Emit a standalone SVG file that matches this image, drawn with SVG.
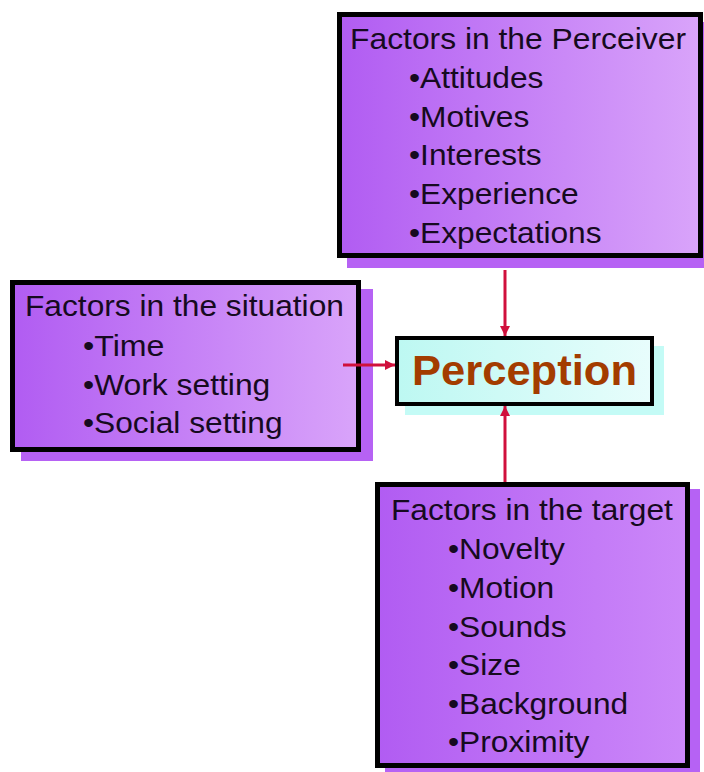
<svg xmlns="http://www.w3.org/2000/svg" width="704" height="772" viewBox="0 0 704 772">
  <defs>
    <linearGradient id="purpleFill" x1="0" y1="0" x2="1" y2="0">
      <stop offset="0" stop-color="#b15cf2"/>
      <stop offset="1" stop-color="#d9a4fa"/>
    </linearGradient>
    <linearGradient id="purpleFillDeep" x1="0" y1="0" x2="1" y2="0">
      <stop offset="0" stop-color="#b15cf2"/>
      <stop offset="1" stop-color="#cc88f9"/>
    </linearGradient>
    <linearGradient id="cyanFill" x1="0" y1="0" x2="1" y2="0">
      <stop offset="0" stop-color="#bdf8f2"/>
      <stop offset="1" stop-color="#e8fdfc"/>
    </linearGradient>
    <marker id="arrowHead" markerUnits="userSpaceOnUse" markerWidth="10" markerHeight="10" refX="10" refY="5" orient="auto">
      <path d="M0,0 L10,5 L0,10 z" fill="#d0103c"/>
    </marker>
  </defs>
  <style>
    .shadow { fill: #b662f4; }
    .shadow-cyan { fill: #c4fbf6; }
    .box { stroke: #000; stroke-width: 5; }
    .label { font-family: "Liberation Sans", Arial, sans-serif; font-size: 30px; fill: #160a20; }
    .title { font-family: "Liberation Sans", Arial, sans-serif; font-size: 43px; font-weight: bold; fill: #a33c00; }
    .link { stroke: #d0103c; stroke-width: 3; fill: none; marker-end: url(#arrowHead); }
  </style>
  <rect width="704" height="772" fill="#ffffff"/>

  <!-- Factors in the Perceiver -->
  <g id="perceiver">
    <rect class="shadow" x="347" y="22" width="366" height="246"/>
    <rect class="box" x="339.5" y="14.5" width="361" height="241" fill="url(#purpleFill)"/>
    <text class="label" x="350" y="49" textLength="336" lengthAdjust="spacingAndGlyphs">Factors in the Perceiver</text>
    <text class="label" x="409" y="88" textLength="134.4" lengthAdjust="spacingAndGlyphs">•Attitudes</text>
    <text class="label" x="409" y="126.5" textLength="120.3" lengthAdjust="spacingAndGlyphs">•Motives</text>
    <text class="label" x="409" y="165" textLength="132.7" lengthAdjust="spacingAndGlyphs">•Interests</text>
    <text class="label" x="409" y="204" textLength="169.7" lengthAdjust="spacingAndGlyphs">•Experience</text>
    <text class="label" x="409" y="242.5" textLength="192.6" lengthAdjust="spacingAndGlyphs">•Expectations</text>
  </g>

  <!-- Factors in the situation -->
  <g id="situation">
    <rect class="shadow" x="21" y="289" width="352" height="172"/>
    <rect class="box" x="12.5" y="282.5" width="346" height="167" fill="url(#purpleFill)"/>
    <text class="label" x="25" y="316" textLength="318.9" lengthAdjust="spacingAndGlyphs">Factors in the situation</text>
    <text class="label" x="83" y="356" textLength="81.5" lengthAdjust="spacingAndGlyphs">•Time</text>
    <text class="label" x="83" y="394.5" textLength="187.3" lengthAdjust="spacingAndGlyphs">•Work setting</text>
    <text class="label" x="83" y="433" textLength="199.6" lengthAdjust="spacingAndGlyphs">•Social setting</text>
  </g>

  <!-- Perception -->
  <g id="perception">
    <rect class="shadow-cyan" x="405" y="346" width="259" height="69"/>
    <rect x="397" y="338" width="255" height="66" fill="url(#cyanFill)" stroke="#000" stroke-width="4"/>
    <text class="title" x="412" y="385" textLength="225" lengthAdjust="spacingAndGlyphs">Perception</text>
  </g>

  <!-- Factors in the target -->
  <g id="target">
    <rect class="shadow" x="385" y="489" width="315" height="283"/>
    <rect class="box" x="377.5" y="484.5" width="310" height="281" fill="url(#purpleFillDeep)"/>
    <text class="label" x="391" y="520" textLength="281.9" lengthAdjust="spacingAndGlyphs">Factors in the target</text>
    <text class="label" x="448" y="559" textLength="116.8" lengthAdjust="spacingAndGlyphs">•Novelty</text>
    <text class="label" x="448" y="598" textLength="106.2" lengthAdjust="spacingAndGlyphs">•Motion</text>
    <text class="label" x="448" y="637" textLength="118.6" lengthAdjust="spacingAndGlyphs">•Sounds</text>
    <text class="label" x="448" y="675" textLength="72.8" lengthAdjust="spacingAndGlyphs">•Size</text>
    <text class="label" x="448" y="713.5" textLength="180.2" lengthAdjust="spacingAndGlyphs">•Background</text>
    <text class="label" x="448" y="752" textLength="141.4" lengthAdjust="spacingAndGlyphs">•Proximity</text>
  </g>

  <!-- Connectors -->
  <g id="connectors">
    <line class="link" x1="505" y1="270" x2="505" y2="336"/>
    <line class="link" x1="343" y1="365" x2="395" y2="365"/>
    <line class="link" x1="505" y1="482" x2="505" y2="406"/>
  </g>
</svg>
